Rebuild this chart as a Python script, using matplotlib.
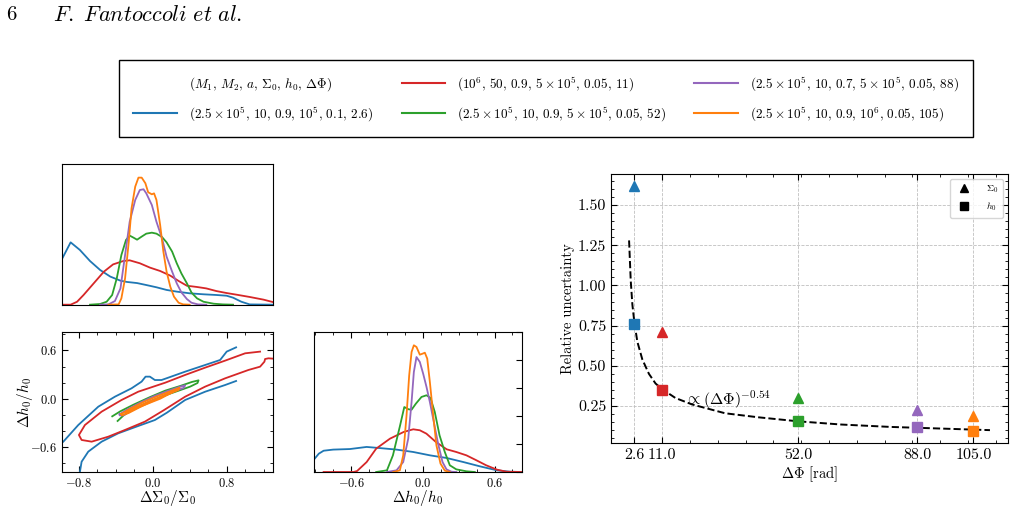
import matplotlib
matplotlib.use("Agg")
import matplotlib.pyplot as plt
from matplotlib.lines import Line2D
from matplotlib.ticker import FixedLocator, MultipleLocator, FuncFormatter, FormatStrFormatter

plt.rcParams['font.family'] = 'serif'
plt.rcParams['font.serif'] = ['cmr10']
plt.rcParams['mathtext.fontset'] = 'cm'
plt.rcParams['axes.formatter.use_mathtext'] = True

# runs, in order blue, red, green, purple, orange
run_colors = ['#1f77b4', '#d62728', '#2ca02c', '#9467bd', '#ff7f0e']
run_labels = [r'$(2.5\times10^5,\,10,\,0.9,\,10^5,\,0.1,\,2.6)$',
              r'$(10^6,\,50,\,0.9,\,5\times10^5,\,0.05,\,11)$',
              r'$(2.5\times10^5,\,10,\,0.9,\,5\times10^5,\,0.05,\,52)$',
              r'$(2.5\times10^5,\,10,\,0.7,\,5\times10^5,\,0.05,\,88)$',
              r'$(2.5\times10^5,\,10,\,0.9,\,10^6,\,0.05,\,105)$']
header_label = r'$(M_1,\,M_2,\,a,\,\Sigma_0,\,h_0,\,\Delta\Phi)$'

# marginal of Delta Sigma0 / Sigma0 (normalised height)
sig_blue_x = [-0.98, -0.89, -0.79, -0.68, -0.57, -0.46, -0.35, -0.28, -0.17, -0.07, 0.04, 0.15, 0.26, 0.40, 0.55, 0.69, 0.80, 0.87, 0.96, 1.05, 1.30]
sig_blue_y = [0.330, 0.444, 0.390, 0.311, 0.247, 0.200, 0.171, 0.162, 0.154, 0.140, 0.124, 0.105, 0.093, 0.081, 0.074, 0.069, 0.064, 0.050, 0.021, 0.002, 0.0]
sig_red_x = [-0.98, -0.89, -0.82, -0.75, -0.64, -0.53, -0.43, -0.32, -0.25, -0.14, -0.03, 0.08, 0.19, 0.28, 0.37, 0.48, 0.58, 0.69, 0.80, 0.91, 1.05, 1.20, 1.30]
sig_red_y = [0.0, 0.0, 0.021, 0.069, 0.152, 0.235, 0.287, 0.311, 0.316, 0.295, 0.264, 0.240, 0.207, 0.169, 0.135, 0.126, 0.116, 0.097, 0.083, 0.071, 0.055, 0.036, 0.019]
sig_green_x = [-0.68, -0.57, -0.50, -0.44, -0.39, -0.34, -0.29, -0.25, -0.21, -0.17, -0.12, -0.07, -0.01, 0.04, 0.10, 0.15, 0.21, 0.26, 0.31, 0.37, 0.42, 0.48, 0.55, 0.66, 0.76, 0.87]
sig_green_y = [0.0, 0.005, 0.021, 0.069, 0.188, 0.354, 0.461, 0.492, 0.478, 0.463, 0.485, 0.506, 0.513, 0.506, 0.482, 0.444, 0.378, 0.295, 0.223, 0.152, 0.086, 0.045, 0.021, 0.007, 0.002, 0.0]
sig_purple_x = [-0.57, -0.48, -0.41, -0.35, -0.30, -0.25, -0.19, -0.14, -0.10, -0.07, -0.01, 0.04, 0.10, 0.15, 0.21, 0.26, 0.31, 0.37, 0.42, 0.49, 0.58]
sig_purple_y = [0.0, 0.002, 0.026, 0.116, 0.354, 0.591, 0.746, 0.817, 0.822, 0.793, 0.710, 0.591, 0.473, 0.342, 0.235, 0.152, 0.088, 0.040, 0.014, 0.002, 0.0]
sig_orange_x = [-0.48, -0.37, -0.34, -0.30, -0.26, -0.23, -0.19, -0.155, -0.12, -0.08, -0.05, -0.01, 0.014, 0.04, 0.08, 0.115, 0.15, 0.19, 0.23, 0.28, 0.33, 0.40]
sig_orange_y = [0.0, 0.002, 0.045, 0.188, 0.449, 0.686, 0.841, 0.905, 0.905, 0.865, 0.801, 0.786, 0.793, 0.746, 0.568, 0.378, 0.235, 0.128, 0.057, 0.014, 0.002, 0.0]

# marginal of Delta h0 / h0 (normalised height)
h_blue_x = [-0.91, -0.87, -0.83, -0.75, -0.61, -0.47, -0.36, -0.22, -0.08, 0.06, 0.20, 0.34, 0.48, 0.62, 0.73, 0.83]
h_blue_y = [0.090, 0.131, 0.152, 0.160, 0.164, 0.179, 0.171, 0.160, 0.143, 0.119, 0.100, 0.071, 0.040, 0.012, 0.002, 0.0]
h_red_x = [-0.83, -0.58, -0.55, -0.47, -0.39, -0.275, -0.16, -0.08, -0.025, 0.03, 0.11, 0.20, 0.28, 0.365, 0.45, 0.53, 0.62, 0.70, 0.83]
h_red_y = [0.0, 0.0, 0.007, 0.071, 0.167, 0.238, 0.286, 0.305, 0.298, 0.274, 0.214, 0.162, 0.143, 0.119, 0.083, 0.048, 0.017, 0.002, 0.0]
h_green_x = [-0.39, -0.30, -0.25, -0.19, -0.155, -0.12, -0.094, -0.058, -0.011, 0.031, 0.064, 0.10, 0.14, 0.184, 0.226, 0.28, 0.365, 0.435]
h_green_y = [0.0, 0.012, 0.119, 0.333, 0.464, 0.448, 0.445, 0.488, 0.536, 0.548, 0.529, 0.429, 0.262, 0.143, 0.048, 0.019, 0.005, 0.0]
h_purple_x = [-0.30, -0.22, -0.164, -0.122, -0.094, -0.075, -0.053, -0.025, 0.003, 0.031, 0.059, 0.092, 0.128, 0.165, 0.198, 0.24, 0.28]
h_purple_y = [0.0, 0.012, 0.071, 0.238, 0.500, 0.714, 0.821, 0.786, 0.702, 0.607, 0.500, 0.357, 0.202, 0.071, 0.019, 0.002, 0.0]
h_orange_x = [-0.247, -0.192, -0.164, -0.136, -0.114, -0.094, -0.075, -0.053, -0.025, -0.002, 0.017, 0.037, 0.059, 0.087, 0.114, 0.148, 0.184, 0.226]
h_orange_y = [0.0, 0.012, 0.119, 0.405, 0.690, 0.857, 0.905, 0.893, 0.838, 0.845, 0.852, 0.810, 0.643, 0.405, 0.190, 0.060, 0.010, 0.0]

# 2D contours (Delta Sigma0/Sigma0, Delta h0/h0)
cont_blue_upper = [(-0.969, -0.533), (-0.807, -0.326), (-0.590, -0.098), (-0.410, 0.026), (-0.230, 0.130), (-0.121, 0.213), (-0.078, 0.275), (-0.031, 0.275), (0.023, 0.233), (0.095, 0.233), (0.167, 0.262), (0.351, 0.337), (0.568, 0.420), (0.730, 0.482), (0.801, 0.586), (0.903, 0.639)]
cont_blue_lower = [(-0.789, -0.906), (-0.771, -0.782), (-0.699, -0.657), (-0.554, -0.533), (-0.374, -0.429), (-0.157, -0.338), (0.023, -0.264), (0.153, -0.173), (0.351, -0.015), (0.568, 0.088), (0.784, 0.171), (0.903, 0.221)]
cont_red = [(1.163, 0.586), (1.001, 0.565), (0.784, 0.474), (0.568, 0.387), (0.351, 0.296), (0.135, 0.200), (0.059, 0.171), (-0.157, 0.088), (-0.338, -0.015), (-0.554, -0.160), (-0.735, -0.326), (-0.800, -0.450), (-0.771, -0.512), (-0.662, -0.533), (-0.482, -0.471), (-0.302, -0.388), (-0.085, -0.284), (0.117, -0.144), (0.351, 0.026), (0.568, 0.151), (0.784, 0.254), (1.037, 0.358), (1.163, 0.399), (1.210, 0.461), (1.217, 0.494), (1.253, 0.503), (1.300, 0.499)]
cont_green = [(-0.439, -0.218), (-0.352, -0.156), (-0.208, -0.073), (-0.028, 0.022), (0.135, 0.101), (0.297, 0.159), (0.424, 0.209), (0.496, 0.229), (0.485, 0.196), (0.405, 0.151), (0.261, 0.093), (0.135, 0.043), (-0.028, -0.032), (-0.208, -0.123), (-0.316, -0.206), (-0.381, -0.276)]
cont_purple = [(-0.359, -0.193), (-0.280, -0.135), (-0.136, -0.048), (0.009, 0.030), (0.153, 0.093), (0.297, 0.151), (0.351, 0.167), (0.333, 0.134), (0.225, 0.093), (0.081, 0.022), (-0.064, -0.048), (-0.208, -0.131), (-0.316, -0.206), (-0.359, -0.206), (-0.359, -0.193)]
cont_orange_outer = [(-0.341, -0.189), (-0.244, -0.123), (-0.100, -0.040), (0.045, 0.030), (0.189, 0.093), (0.290, 0.138), (0.279, 0.109), (0.153, 0.051), (0.009, -0.023), (-0.136, -0.102), (-0.262, -0.177), (-0.334, -0.206), (-0.341, -0.189)]
cont_orange_inner = [(-0.287, -0.168), (-0.100, -0.065), (0.081, 0.022), (0.225, 0.088), (0.081, 0.001), (-0.100, -0.081), (-0.287, -0.168)]

# right panel: relative uncertainties vs dephasing
dphi = [2.6, 11.0, 52.0, 88.0, 105.0]
unc_sigma = [1.617, 0.71, 0.302, 0.227, 0.185]
unc_h = [0.758, 0.352, 0.158, 0.119, 0.096]
fit_x = [1.0, 1.5, 2.0, 2.6, 3.5, 5.0, 7.0, 9.0, 11.0, 15.0, 20.0, 30.0, 40.0, 52.0, 65.0, 80.0, 95.0, 110.0]
fit_y = [1.28, 1.03, 0.88, 0.77, 0.65, 0.54, 0.45, 0.39, 0.355, 0.30, 0.26, 0.205, 0.18, 0.155, 0.135, 0.12, 0.11, 0.10]

sig_lim = (-0.98, 1.30)
h_lim = (-0.91, 0.83)
lw = 1.3

fig = plt.figure(figsize=(10.15, 5.31), dpi=100)

fig.text(0.006, 0.971, '6', fontsize=15, va='center')
fig.text(0.052, 0.971, r'$\mathit{F.\ Fantoccoli\ et\ al.}$', fontsize=16, va='center')

ax_s = fig.add_axes([0.0614, 0.4262, 0.2073, 0.2644])
ax_c = fig.add_axes([0.0614, 0.1111, 0.2073, 0.2637])
ax_h = fig.add_axes([0.3094, 0.1111, 0.2049, 0.2637])
ax_r = fig.add_axes([0.6020, 0.1657, 0.3911, 0.5066])

sig_x = [sig_blue_x, sig_red_x, sig_green_x, sig_purple_x, sig_orange_x]
sig_y = [sig_blue_y, sig_red_y, sig_green_y, sig_purple_y, sig_orange_y]
h_x = [h_blue_x, h_red_x, h_green_x, h_purple_x, h_orange_x]
h_y = [h_blue_y, h_red_y, h_green_y, h_purple_y, h_orange_y]
for i, c in enumerate(run_colors):
    ax_s.plot(sig_x[i], sig_y[i], color=c, lw=lw)
    ax_h.plot(h_x[i], h_y[i], color=c, lw=lw)

contours = [(cont_blue_upper, 0), (cont_blue_lower, 0), (cont_red, 1), (cont_green, 2),
            (cont_purple, 3), (cont_orange_outer, 4), (cont_orange_inner, 4)]
for path, k in contours:
    ax_c.plot([p[0] for p in path], [p[1] for p in path], color=run_colors[k], lw=lw)

math_fmt = FuncFormatter(lambda v, pos: r'$%.1f$' % v)

ax_s.set_xlim(*sig_lim)
ax_s.set_ylim(0, 1)
ax_s.tick_params(which='both', bottom=False, left=False, labelbottom=False, labelleft=False)

ax_c.set_xlim(*sig_lim)
ax_c.set_ylim(*h_lim)
ax_c.xaxis.set_major_locator(FixedLocator([-0.8, 0.0, 0.8]))
ax_c.yaxis.set_major_locator(FixedLocator([-0.6, 0.0, 0.6]))
ax_c.xaxis.set_minor_locator(MultipleLocator(0.2))
ax_c.yaxis.set_minor_locator(MultipleLocator(0.2))
ax_c.xaxis.set_major_formatter(math_fmt)
ax_c.yaxis.set_major_formatter(math_fmt)
ax_c.tick_params(which='both', direction='in', top=True, right=True, labelsize=9)
ax_c.tick_params(which='major', length=4)
ax_c.tick_params(which='minor', length=2.5)
ax_c.set_xlabel(r'$\Delta\Sigma_0/\Sigma_0$', fontsize=11, labelpad=-1)
ax_c.set_ylabel(r'$\Delta h_0/h_0$', fontsize=11, labelpad=-3)

ax_h.set_xlim(*h_lim)
ax_h.set_ylim(0, 1)
ax_h.xaxis.set_major_locator(FixedLocator([-0.6, 0.0, 0.6]))
ax_h.xaxis.set_minor_locator(MultipleLocator(0.15))
ax_h.xaxis.set_major_formatter(math_fmt)
ax_h.yaxis.set_major_locator(MultipleLocator(0.2))
ax_h.tick_params(which='both', direction='in', top=True, right=True, left=False,
                 labelleft=False, labelsize=9)
ax_h.tick_params(which='major', length=4)
ax_h.tick_params(which='minor', length=2.5)
ax_h.set_xlabel(r'$\Delta h_0/h_0$', fontsize=11, labelpad=-1)

ax_r.plot(fit_x, fit_y, 'k--', lw=1.4, zorder=2)
for i, c in enumerate(run_colors):
    ax_r.plot(dphi[i], unc_sigma[i], ls='none', marker='^', ms=7, color=c, zorder=3)
    ax_r.plot(dphi[i], unc_h[i], ls='none', marker='s', ms=7, color=c, zorder=3)
ax_r.text(18, 0.29, r'$\propto(\Delta\Phi)^{-0.54}$', fontsize=11.5, va='center')

ax_r.set_xticks(dphi)
ax_r.xaxis.set_major_formatter(FormatStrFormatter('%.1f'))
ax_r.xaxis.set_minor_locator(MultipleLocator(8.4, offset=2.6))
ax_r.yaxis.set_major_locator(MultipleLocator(0.25))
ax_r.yaxis.set_major_formatter(FormatStrFormatter('%.2f'))
ax_r.yaxis.set_minor_locator(MultipleLocator(0.05))
ax_r.tick_params(which='both', direction='in', top=True, right=True, labelsize=11.5)
ax_r.tick_params(which='major', length=4)
ax_r.tick_params(which='minor', length=2)
ax_r.grid(True, which='major', ls='--', lw=0.6, color='0.75')
ax_r.set_axisbelow(True)
ax_r.set_xlabel(r'$\Delta\Phi$ [rad]', fontsize=10.5, labelpad=2)
ax_r.set_ylabel('Relative uncertainty', fontsize=10.5, labelpad=2)

marker_handles = [Line2D([], [], ls='none', marker='^', ms=6, color='k'),
                  Line2D([], [], ls='none', marker='s', ms=6, color='k')]
ax_r.legend(marker_handles, [r'$\Sigma_0$', r'$h_0$'], loc='upper right', fontsize=7,
            handletextpad=1.2, borderpad=0.5)

handles = [Line2D([], [], color='none')] + [Line2D([], [], color=c, lw=1.5) for c in run_colors]
fig.legend(handles, [header_label] + run_labels, loc='upper left',
           bbox_to_anchor=(0.1172, 0.744, 0.8414, 0.143), mode='expand', ncol=3,
           fontsize=9.5, handlelength=3.3, handletextpad=0.9, labelspacing=0.8,
           borderpad=1.1, borderaxespad=0, fancybox=False, edgecolor='k', framealpha=1)

fig.savefig('out.png', dpi=100)
